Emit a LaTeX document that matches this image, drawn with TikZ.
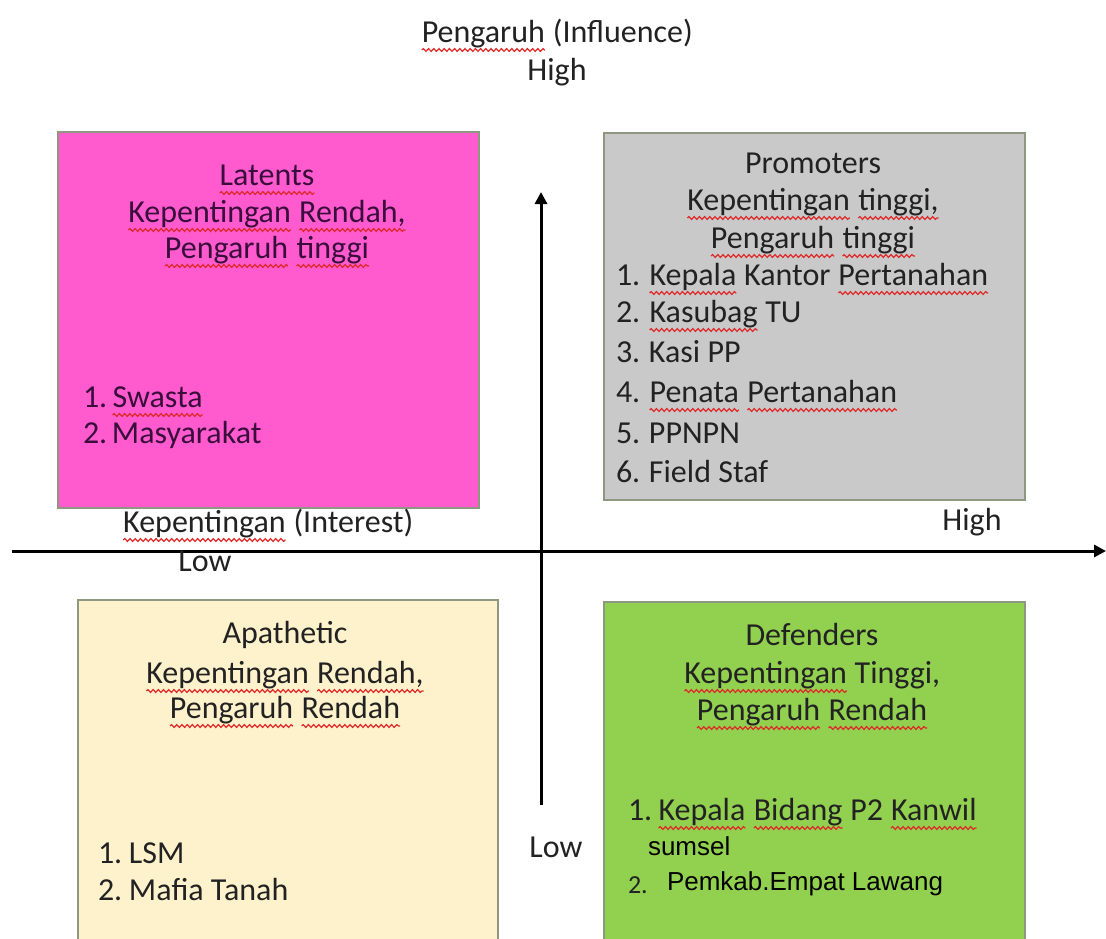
\documentclass[tikz,border=0pt]{standalone}
\usepackage{fontspec}
\setmainfont{Carlito}
\newfontfamily\arialfont{Liberation Sans}
\usetikzlibrary{arrows.meta,decorations.pathmorphing}
\definecolor{pinkfill}{HTML}{FF5BCE}
\definecolor{grayfill}{HTML}{C9C9C9}
\definecolor{greenfill}{HTML}{92D050}
\definecolor{creamfill}{HTML}{FEF2CD}
\definecolor{boxline}{HTML}{8E9880}
\definecolor{txt}{HTML}{222222}
\definecolor{purpletxt}{HTML}{3A0E3C}
\definecolor{squig}{HTML}{E02828}
\tikzset{
  quad/.style={draw=boxline, line width=1pt, anchor=north west, inner sep=0pt},
  lbl/.style={font=\fontsize{16}{19}\selectfont, text=txt, inner sep=0pt, outer sep=0pt},
  ttl/.style={lbl, anchor=base},
  itm/.style={lbl, anchor=base west},
  arl/.style={itm, font=\arialfont\fontsize{13}{15}\selectfont, text=black},
  axisline/.style={line width=1.5pt, -{Triangle[length=6pt,width=6pt]}},
  sqline/.style={squig, line width=0.6pt, decorate, decoration={snake, amplitude=0.7pt, segment length=2.6pt}},
}
\newcommand{\sq}[1]{\tikz[baseline=(sqw.base)]{\node[inner sep=0pt,outer sep=0pt,anchor=base](sqw){#1};\draw[sqline]([yshift=-0.25em]sqw.base west)--([yshift=-0.25em]sqw.base east);}}
\newcommand{\num}[2]{\makebox[#1][l]{#2}}
\begin{document}
\begin{tikzpicture}[x=0.5pt,y=-0.5pt]
\clip (0,0) rectangle (1106,938);
\fill[white] (0,0) rectangle (1106,938);

% quadrant boxes
\node[quad, fill=pinkfill, minimum width=210.5pt, minimum height=188pt] (latents) at (57,131) {};
\node[quad, fill=grayfill, minimum width=210.5pt, minimum height=183.5pt] (promoters) at (603,132) {};
\node[quad, fill=creamfill, minimum width=210pt, minimum height=176pt] (apathetic) at (77,599) {};
\node[quad, fill=greenfill, minimum width=210.5pt, minimum height=176pt] (defenders) at (603,601) {};

% axes
\coordinate (hstart) at (12,551);
\coordinate (hend) at (1106,551);
\coordinate (vstart) at (541,805);
\coordinate (vend) at (541,192);
\draw[axisline] (hstart) -- (hend);
\draw[axisline] (vstart) -- (vend);

% axis labels
\node[ttl] (inftitle) at (557,42) {\sq{Pengaruh} (Influence)};
\node[ttl] (infhigh) at (557,80) {High};
\node[ttl] (inttitle) at (268,532) {\sq{Kepentingan} (Interest)};
\node[ttl] (inthigh) at (972,530) {High};
\node[ttl] (intlow) at (205,571) {Low};
\node[ttl] (inflow) at (556,857) {Low};

% Latents
\node[ttl, text=purpletxt] (lt1) at (267,185) {\sq{Latents}};
\node[ttl, text=purpletxt] (lt2) at (267,222) {\sq{Kepentingan} \sq{Rendah,}};
\node[ttl, text=purpletxt] (lt3) at (267,258) {\sq{Pengaruh} \sq{tinggi}};
\node[itm, text=purpletxt] (li1) at (83,407) {\num{14.5pt}{1.}\sq{Swasta}};
\node[itm, text=purpletxt] (li2) at (83,443) {\num{14.5pt}{2.}Masyarakat};

% Promoters
\node[ttl] (pt1) at (813,173) {Promoters};
\node[ttl] (pt2) at (813,210) {\sq{Kepentingan} \sq{tinggi,}};
\node[ttl] (pt3) at (813,248) {\sq{Pengaruh} \sq{tinggi}};
\node[itm] (pi1) at (616,285) {\num{16.5pt}{1.}\sq{Kepala} Kantor \sq{Pertanahan}};
\node[itm] (pi2) at (616,322) {\num{16.5pt}{2.}\sq{Kasubag} TU};
\node[itm] (pi3) at (616,362) {\num{16.5pt}{3.}Kasi PP};
\node[itm] (pi4) at (616,402) {\num{16.5pt}{4.}\sq{Penata} \sq{Pertanahan}};
\node[itm] (pi5) at (616,443) {\num{16.5pt}{5.}PPNPN};
\node[itm] (pi6) at (616,482) {\num{16.5pt}{6.}Field Staf};

% Apathetic
\node[ttl] (at1) at (285,643) {Apathetic};
\node[ttl] (at2) at (285,683) {\sq{Kepentingan} \sq{Rendah,}};
\node[ttl] (at3) at (285,718) {\sq{Pengaruh} \sq{Rendah}};
\node[itm] (ai1) at (98,863) {\num{15.5pt}{1.}LSM};
\node[itm] (ai2) at (98,900) {\num{15.5pt}{2.}Mafia Tanah};

% Defenders
\node[ttl] (dt1) at (812,645) {Defenders};
\node[ttl] (dt2) at (812,683) {\sq{Kepentingan} Tinggi,};
\node[ttl] (dt3) at (812,720) {\sq{Pengaruh} \sq{Rendah}};
\node[itm] (di1) at (628,820) {\num{15pt}{1.}\sq{Kepala} \sq{Bidang} P2 \sq{Kanwil}};
\node[arl] (di1b) at (648,855) {sumsel};
\node[itm, font=\fontsize{13}{15}\selectfont] (di2n) at (628,893) {2.};
\node[arl] (di2) at (667,890) {Pemkab.Empat Lawang};
\end{tikzpicture}
\end{document}
